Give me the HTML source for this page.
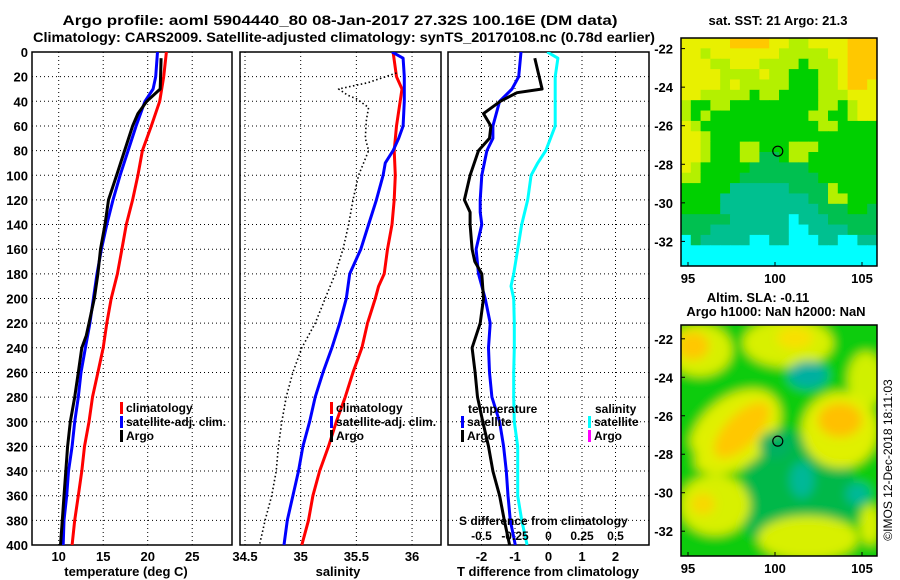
<!DOCTYPE html>
<html><head><meta charset="utf-8"><style>
html,body{margin:0;padding:0;background:#fff;}
svg{display:block;font-family:"Liberation Sans",sans-serif;font-weight:bold;}
</style></head><body>
<svg id="fig" width="900" height="580" viewBox="0 0 900 580" xmlns="http://www.w3.org/2000/svg">
<defs>
<filter id="blur" x="-20%" y="-20%" width="140%" height="140%"><feGaussianBlur stdDeviation="5"/></filter>
<clipPath id="clipMap2"><rect x="681" y="325" width="196" height="231"/></clipPath>
<clipPath id="clipP1"><rect x="32" y="52" width="200" height="493"/></clipPath>
<clipPath id="clipP2"><rect x="240" y="52" width="201" height="493"/></clipPath>
<clipPath id="clipP3"><rect x="448" y="52" width="201" height="493"/></clipPath>
</defs>
<text x="340" y="25" text-anchor="middle" font-size="14" textLength="555" lengthAdjust="spacingAndGlyphs">Argo profile: aoml 5904440_80 08-Jan-2017 27.32S 100.16E (DM data)</text>
<text x="344" y="42" text-anchor="middle" font-size="14" textLength="622" lengthAdjust="spacingAndGlyphs">Climatology: CARS2009. Satellite-adjusted climatology: synTS_20170108.nc (0.78d earlier)</text>
<g id="g1"></g>
<g id="g2"></g>
<g id="g3"></g>
<g id="m1"></g>
<g id="m2"></g>
<text x="778" y="25" text-anchor="middle" font-size="13">sat. SST: 21 Argo: 21.3</text>
<text x="758" y="302" text-anchor="middle" font-size="13">Altim. SLA: -0.11</text>
<text x="776" y="316" text-anchor="middle" font-size="13">Argo h1000: NaN h2000: NaN</text>
<text transform="translate(892,460) rotate(-90)" text-anchor="middle" font-size="12" font-weight="normal">©IMOS 12-Dec-2018 18:11:03</text>
</svg>
<script>
const depths=[0,20,40,60,80,100,120,140,160,180,200,220,240,260,280,300,320,340,360,380,400];
const tClim=[22.1,21.8,21.35,20.4,19.4,18.9,18.3,17.6,17.1,16.6,15.9,15.4,15.0,14.4,13.8,13.4,12.9,12.6,12.2,11.8,11.5];
const tSatDepth=[0,20,30,40,60,80,100,120,140,160,180,200,220,240,260,280,300,320,340,360,380,400];
const tSat=[21.1,20.9,20.6,19.7,18.7,17.8,16.9,16.1,15.4,14.8,14.3,13.9,13.5,13.0,12.5,12.2,11.8,11.5,11.1,10.9,10.6,10.5];
const argoDepth=[5,30,40,50,60,80,100,120,140,160,180,200,220,230,240,260,280,300,320,340,360,380,400];
const tArgo=[21.5,21.4,19.9,18.9,18.3,17.4,16.5,15.6,15.2,14.7,14.4,14.0,13.4,13.1,12.6,12.2,11.8,11.3,11.0,10.8,10.6,10.4,10.2];
const sClimDepth=[0,20,30,60,80,100,120,140,160,180,190,200,220,240,260,280,300,320,340,360,380,400];
const sClim=[35.83,35.86,35.91,35.86,35.84,35.85,35.84,35.82,35.78,35.75,35.70,35.67,35.60,35.55,35.47,35.40,35.32,35.25,35.17,35.11,35.07,35.01];
const sSatDepth=[0,5,20,40,60,70,80,90,100,120,140,160,180,200,220,240,260,280,300,320,340,360,380,400];
const sSat=[35.82,35.92,35.93,35.93,35.92,35.88,35.83,35.76,35.74,35.68,35.61,35.54,35.44,35.41,35.35,35.28,35.20,35.13,35.08,35.02,34.98,34.93,34.88,34.85];
const sArgoDepth=[17,25,30,35,38,45,55,70,80,100,120,140,160,180,200,220,240,260,280,300,320,340,360,380,400];
const sArgo=[35.86,35.6,35.34,35.42,35.50,35.61,35.59,35.58,35.61,35.52,35.47,35.43,35.38,35.31,35.22,35.13,35.01,34.93,34.87,34.83,34.80,34.78,34.74,34.68,34.63];
const dSatDepth=[0,20,30,40,60,70,80,100,120,130,140,160,180,200,220,240,260,280,300,320,340,360,380,400];
const dTSat=[-0.82,-0.89,-1.09,-1.46,-1.66,-1.66,-1.84,-1.99,-2.04,-2.04,-1.99,-2.16,-2.09,-1.89,-1.74,-1.79,-1.76,-1.69,-1.46,-1.34,-1.26,-1.21,-1.14,-0.99];
const dArgoDepth=[5,30,33,40,50,60,70,80,100,120,130,140,160,170,180,200,220,240,260,280,300,320,340,360,380,400];
const dTArgo=[-0.41,-0.19,-0.94,-1.44,-1.94,-1.72,-1.76,-2.09,-2.34,-2.51,-2.34,-2.34,-2.28,-2.2,-1.99,-1.94,-2.04,-2.28,-2.19,-2.12,-1.96,-1.79,-1.66,-1.46,-1.32,-1.16];
const dSDepth=[0,5,20,40,60,70,80,90,100,120,140,160,180,190,200,220,240,260,280,300,320,340,360,380,400];
const dSSat=[-0.01,0.07,0.05,0.05,0.05,0.015,-0.02,-0.08,-0.13,-0.155,-0.2,-0.23,-0.26,-0.28,-0.26,-0.255,-0.255,-0.26,-0.26,-0.255,-0.23,-0.23,-0.23,-0.2,-0.16];
const depthTicks=[0,20,40,60,80,100,120,140,160,180,200,220,240,260,280,300,320,340,360,380,400];
const tTicks=[10,15,20,25];
const sTicks=[34.5,35,35.5,36];
const sTickLabels=["34.5","35","35.5","36"];
const dTTicks=[-2,-1,0,1,2];
const dSTicks=[-0.5,-0.25,0,0.25,0.5];
const dSTickLabels=["-0.5","-0.25","0","0.25","0.5"];
const latTicks=[-22,-24,-26,-28,-30,-32];
const lonTicks=[95,100,105];
const argoLon=100.16, argoLat=-27.32;

const NS="http://www.w3.org/2000/svg";
function mk(parent,tag,attrs,text){const e=document.createElementNS(NS,tag);for(const k in attrs)e.setAttribute(k,attrs[k]);if(text!==undefined)e.textContent=text;parent.appendChild(e);return e;}
const Y0=52,Y1=545;
function yD(d){return Y0+(d/400)*(Y1-Y0);}
function lin(d0,d1,r0,r1){return v=>r0+(v-d0)/(d1-d0)*(r1-r0);}
const xT=lin(7,29.47,32,232);
const xS=lin(34.455,36.26,240,441);
const xDT=lin(-3,3,448,649);
const xDS=lin(-0.75,0.75,448,649);

function panel(g,x0,x1,xf,ticks,labels,clip,title,titleX){
  depthTicks.forEach(d=>{const l=mk(g,'line',{x1:x0,x2:x1,y1:yD(d),y2:yD(d),stroke:'#000','stroke-width':1,'stroke-dasharray':'1,3'});
  
  });
  ticks.forEach((t,i)=>{const x=xf(t);const l=mk(g,'line',{x1:x,x2:x,y1:Y0,y2:Y1,stroke:'#000','stroke-width':1,'stroke-dasharray':'1,3'});
  
  
  const tx=mk(g,'text',{x:x,y:561,'text-anchor':'middle','font-size':13},labels[i]);
  
  });
  const r=mk(g,'rect',{x:x0,y:Y0,width:x1-x0,height:Y1-Y0,fill:'none',stroke:'#000','stroke-width':1.5});
  
  
  const t=mk(g,'text',{x:titleX,y:576,'text-anchor':'middle','font-size':13},title);
  
  
}
function line(g,ds,vs,xf,color,clip,name,dash){
  const pts=ds.map((d,i)=>xf(vs[i]).toFixed(1)+','+yD(d).toFixed(1)).join(' ');
  const a={points:pts,fill:'none',stroke:color,'stroke-width':dash?1.6:3,'stroke-linejoin':'round','clip-path':'url(#'+clip+')'};
  if(dash)a['stroke-dasharray']='1.5,2.5';
  const p=mk(g,'polyline',a);
  
  
}
function legend(g,x,y,color,label,name){
  const r=mk(g,'rect',{x:x,y:y-10,width:3,height:12,fill:color});
  
  
  if(label){const t=mk(g,'text',{x:x+6,y:y,'font-size':12},label);
  
  }
}
const g1=document.getElementById('g1'),g2=document.getElementById('g2'),g3=document.getElementById('g3');
panel(g1,32,232,xT,tTicks,tTicks.map(String),'clipP1','temperature (deg C)',126);
depthTicks.forEach(d=>{const t=mk(g1,'text',{x:28,y:yD(d)+5,'text-anchor':'end','font-size':13},String(d));

});
line(g1,depths,tClim,xT,'#ff0000','clipP1','temp-climatology-line');
line(g1,tSatDepth,tSat,xT,'#0000ff','clipP1','temp-satellite-line');
line(g1,argoDepth,tArgo,xT,'#000000','clipP1','temp-argo-line');
legend(g1,120,412,'#ff0000','climatology','legend-climatology');
legend(g1,120,426,'#0000ff','satellite-adj. clim.','legend-satellite');
legend(g1,120,440,'#000000','Argo','legend-argo');

panel(g2,240,441,xS,sTicks,sTickLabels,'clipP2','salinity',338);
line(g2,sClimDepth,sClim,xS,'#ff0000','clipP2','sal-climatology-line');
line(g2,sSatDepth,sSat,xS,'#0000ff','clipP2','sal-satellite-line');
line(g2,sArgoDepth,sArgo,xS,'#000000','clipP2','sal-argo-line',true);
legend(g2,330,412,'#ff0000','climatology','legend2-climatology');
legend(g2,330,426,'#0000ff','satellite-adj. clim.','legend2-satellite');
legend(g2,330,440,'#000000','Argo','legend2-argo');

panel(g3,448,649,xDT,dTTicks,dTTicks.map(String),'clipP3','T difference from climatology',548);
line(g3,dSDepth,dSSat,xDS,'#00ffff','clipP3','sal-diff-satellite-line');
line(g3,dSatDepth,dTSat,xDT,'#0000ff','clipP3','temp-diff-satellite-line');
line(g3,dArgoDepth,dTArgo,xDT,'#000000','clipP3','temp-diff-argo-line');
(function(){const t=mk(g3,'text',{x:468,y:413,'font-size':12},'temperature');
const s=mk(g3,'text',{x:595,y:413,'font-size':12},'salinity');
const a=mk(g3,'text',{x:459,y:525,'font-size':12},'S difference from climatology');})();
legend(g3,461,426,'#0000ff','satellite','legend3-temp-satellite');
legend(g3,461,440,'#000000','Argo','legend3-temp-argo');
legend(g3,588,426,'#00ffff','satellite','legend3-sal-satellite');
legend(g3,588,440,'#ff00ff','Argo','legend3-sal-argo');
dSTicks.forEach((t,i)=>{const e=mk(g3,'text',{x:xDS(t),y:540,'text-anchor':'middle','font-size':12},dSTickLabels[i]);

});

const lonX=lin(95,105,688,862);
function mapAxes(g,top,bottom,latY,labelY){
  latTicks.forEach(l=>{const y=latY(l);
    const k=mk(g,'line',{x1:681,x2:685,y1:y,y2:y,stroke:'#000'});
    const t=mk(g,'text',{x:673,y:y+5,'text-anchor':'end','font-size':13},String(l));
    
    });
  lonTicks.forEach(l=>{const x=lonX(l);
    const k=mk(g,'line',{x1:x,x2:x,y1:bottom,y2:bottom-4,stroke:'#000'});
    const t=mk(g,'text',{x:x,y:labelY,'text-anchor':'middle','font-size':13},String(l));
    
    });
  const r=mk(g,'rect',{x:681,y:top,width:196,height:bottom-top,fill:'none',stroke:'#000','stroke-width':1.5});
  
  
}
const m1=document.getElementById('m1');
const pal={O:'#ffc800',Y:'#e8f000',L:'#b4f000',G:'#00d000',g:'#00c050',T:'#00c090',C:'#00ffff'};
const sstRows=[
"YYYYYOOOOYYLLYYYYOOO","YYLYYYYYYYLLLLLYYOOO","YYYLLYYYLLLLGLLLYOOO","YYYYLLLLYLLGGGLLYOOO",
"YYYYLYLLLLLGGGLLYOOY","YYLLLLLGLLGGGGLLLYYY","LGGLLGGGGGGGGGLLGLYY","LGLGGGGGGGGGGLLGGLYY",
"YLGGGGGGGGGGGGLLGGGG","YYLGGGGGGGGGGGGGGGGG","YYLGGGLLGGGLLLGGGGGG","YYLGGGLLggGLLGGGGGGG",
"YLGGGGGggggggGGGGGGG","LLGGGGggggggggGGGGGG","GGGGGTTTTTTggggLGGGG","GGGGTTTTTTTTTggLLGGG",
"GGGGTTTTTTTTTTgggGGg","gggggTTTTTTCTTTggggg","gggTTTTTTTTCCTTTTggg","CgTTTTTCCTTCCCTTCCTT",
"CCCCCCCCCCCCCCCCCCCC","CCCCCCCCCCCCCCCCCCCC"];
const cw=196/20,ch=228/22;
sstRows.forEach((row,r)=>{for(let c=0;c<20;c++){const e=mk(m1,'rect',{x:(681+c*cw).toFixed(2),y:(38+r*ch).toFixed(2),width:(cw+0.5).toFixed(2),height:(ch+0.5).toFixed(2),fill:pal[row[c]]});

}});
const latY1=lin(-22,-32,48.6,241.4);
mapAxes(m1,38,266,latY1,283);
(function(){const c=mk(m1,'circle',{cx:lonX(argoLon),cy:latY1(argoLat),r:5,fill:'none',stroke:'#000','stroke-width':1.2});})();

const m2=document.getElementById('m2');
const bg=mk(m2,'g',{'clip-path':'url(#clipMap2)'});


const blobs=mk(bg,'g',{filter:'url(#blur)'});
mk(blobs,'rect',{x:660,y:300,width:240,height:280,fill:'#10cc10'});
const blobList=[
['path',{d:'M745,420 L790,430 L850,460 L860,520 L800,520 L770,550 L745,530 Z',fill:'#00b848'}],
['ellipse',{cx:700,cy:350,rx:32,ry:26,fill:'#d8f000'}],['ellipse',{cx:693,cy:346,rx:16,ry:14,fill:'#ffc800'}],
['ellipse',{cx:788,cy:343,rx:45,ry:24,fill:'#d8f000'}],['ellipse',{cx:795,cy:338,rx:18,ry:11,fill:'#f8e000'}],
['ellipse',{cx:866,cy:380,rx:18,ry:28,fill:'#d0f000'}],
['ellipse',{cx:735,cy:432,rx:52,ry:34,fill:'#e0f000',transform:'rotate(-40 735 432)'}],['ellipse',{cx:742,cy:430,rx:36,ry:16,fill:'#ffc800',transform:'rotate(-45 742 430)'}],
['ellipse',{cx:840,cy:430,rx:38,ry:38,fill:'#e0f000'}],['ellipse',{cx:840,cy:420,rx:22,ry:17,fill:'#ffc000'}],
['ellipse',{cx:715,cy:505,rx:35,ry:30,fill:'#d8f000'}],['ellipse',{cx:703,cy:504,rx:12,ry:11,fill:'#f8d800'}],
['ellipse',{cx:808,cy:538,rx:50,ry:22,fill:'#d8f000'}],['ellipse',{cx:870,cy:525,rx:10,ry:20,fill:'#d8f000'}],
['ellipse',{cx:686,cy:460,rx:10,ry:18,fill:'#10cc10'}],
['ellipse',{cx:808,cy:375,rx:20,ry:14,fill:'#00b0a0'}],['ellipse',{cx:802,cy:480,rx:12,ry:18,fill:'#00b898'}],['ellipse',{cx:858,cy:494,rx:12,ry:11,fill:'#00b898'}],
['ellipse',{cx:775,cy:445,rx:16,ry:14,fill:'#00b060'}]];
blobList.forEach(b=>{const e=mk(blobs,b[0],b[1]);});
const latY2=lin(-22,-32,338.8,531.2);
mapAxes(m2,325,556,latY2,573);
(function(){const c=mk(m2,'circle',{cx:lonX(argoLon),cy:latY2(argoLat),r:5,fill:'none',stroke:'#000','stroke-width':1.2});})();
</script>
</body></html>
